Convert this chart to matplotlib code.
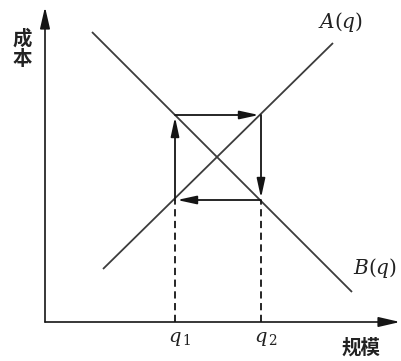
import matplotlib
matplotlib.use("Agg")
import matplotlib.pyplot as plt

plt.rcParams['font.family'] = ['Noto Sans CJK SC', 'DejaVu Sans']
plt.rcParams['mathtext.fontset'] = 'dejavuserif'

# Data (diagram units)
A_x = [58, 288]
A_y = [53, 279]
B_x = [47, 307]
B_y = [290, 30]
q_vals = [130, 216]
q_labels = [r'$q_{\,1}$', r'$q_{\,2}$']
cost_high = 207
cost_low = 122
x_max, y_max = 355, 315

fig = plt.figure(figsize=(4.02, 3.61), dpi=100)
ax = fig.add_axes([45/402, 39/361, 355/402, 317/361])
ax.set_xlim(0, 355)
ax.set_ylim(0, 317)
ax.axis('off')

line_col = '#3c3c3c'
arr_col = '#151515'

# axes with arrows
for tip in [(x_max, 0), (0, y_max)]:
    ax.annotate('', xy=tip, xytext=(0, 0),
                arrowprops=dict(arrowstyle='-|>,head_length=1.3,head_width=0.3', color=arr_col,
                                lw=1.2, shrinkA=0, shrinkB=0, mutation_scale=10),
                annotation_clip=False)

# curves
ax.plot(A_x, A_y, color=line_col, lw=1.3, solid_capstyle='butt')
ax.plot(B_x, B_y, color=line_col, lw=1.3, solid_capstyle='butt')

# dashed drops
for q in q_vals:
    ax.plot([q, q], [0, cost_low], color=arr_col, lw=1.3, linestyle=(0, (4, 2.5)))

# cycle arrows
q1, q2 = q_vals
cycle = [((q1, cost_low), (q1, cost_high)),
         ((q1, cost_high), (q2, cost_high)),
         ((q2, cost_high), (q2, cost_low)),
         ((q2, cost_low), (q1, cost_low))]
for start, end in cycle:
    ax.annotate('', xy=end, xytext=start,
                arrowprops=dict(arrowstyle='-|>,head_length=1.15,head_width=0.25', color=arr_col,
                                lw=1.3, shrinkA=0, shrinkB=1.5, mutation_scale=10))

# labels
ax.text(296, 300, r'$A(q)$', fontsize=14.5, ha='center', va='center', color='#222222')
ax.text(330, 54, r'$B(q)$', fontsize=14.5, ha='center', va='center', color='#222222')
for q, lab in zip(q_vals, q_labels):
    ax.text(q + 5, -16, lab, fontsize=14, ha='center', va='center', color='#222222')
ax.text(316, -26, '规模', fontsize=14, ha='center', va='center', fontweight='bold', color='#222222')
ax.text(-23, 273, '成\n本', fontsize=14, ha='center', va='center', fontweight='bold',
        linespacing=1.05, color='#222222')

fig.savefig('out.png', dpi=100)
